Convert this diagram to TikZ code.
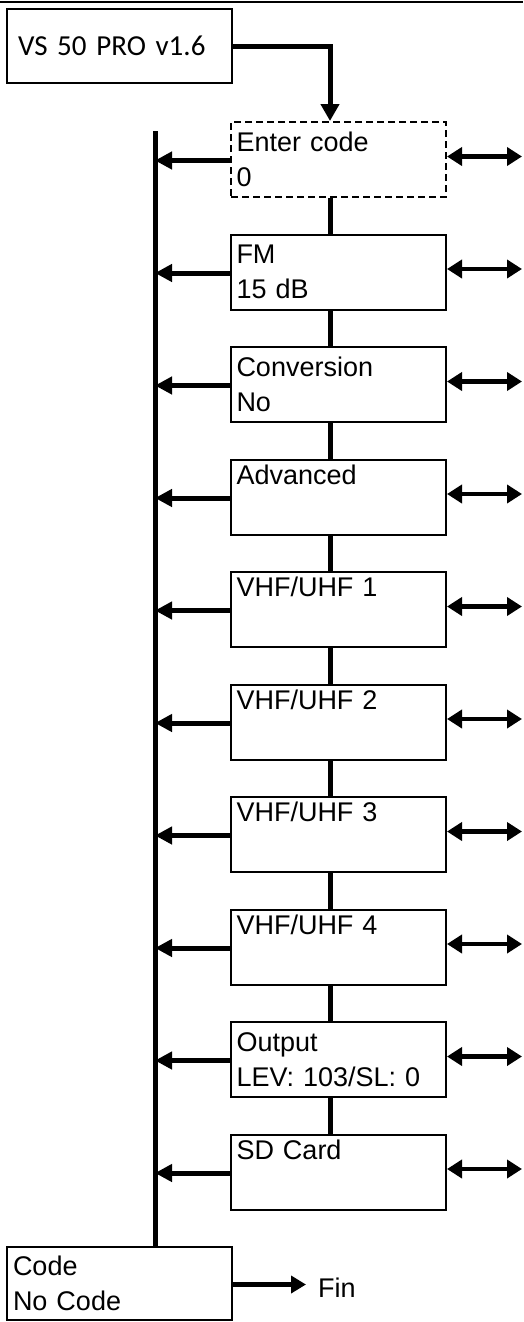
\documentclass[tikz,border=0pt]{standalone}
\usepackage{fontspec}
\setmainfont{Liberation Sans}
\newfontfamily\calfont{Carlito}
\usetikzlibrary{arrows.meta}
\begin{document}
\begin{tikzpicture}[x=1pt,y=-1pt,
  box/.style={draw, line width=2pt, minimum width=215pt, minimum height=75pt,
    text width=204pt, inner xsep=5.5pt, inner ysep=0pt, align=left,
    font=\fontsize{27}{34.5}\selectfont},
  dbox/.style={box, dashed, dash pattern=on 7pt off 4pt},
  link/.style={line width=5pt},
  larrow/.style={line width=5pt, -{Triangle[length=17pt,width=17pt]}},
  darrow/.style={line width=4.5pt, {Triangle[length=15pt,width=18pt]}-{Triangle[length=15pt,width=18pt]}},
  txt/.style={inner sep=0pt, anchor=base west, font=\fontsize{27}{34.5}\selectfont}
]
\useasboundingbox (0,0) rectangle (523,1322);
\draw[line width=2pt] (0,2) -- (523,2);

\node[box, font=\calfont\fontsize{29}{34}\selectfont, inner xsep=11pt, text width=203pt, minimum height=74pt] (vs) at (119.5,46) {VS 50 PRO v1.6};

\node[dbox] (b0) at (338.5,159.5) {Enter code\\0};
\node[box] (b1) at (338.5,272) {FM\\15 dB};
\node[box] (b2) at (338.5,384.5) {Conversion\\No};
\node[box] (b3) at (338.5,497) {Advanced\\\strut};
\node[box] (b4) at (338.5,609.5) {VHF/UHF 1\\\strut};
\node[box] (b5) at (338.5,722) {VHF/UHF 2\\\strut};
\node[box] (b6) at (338.5,834.5) {VHF/UHF 3\\\strut};
\node[box] (b7) at (338.5,947) {VHF/UHF 4\\\strut};
\node[box] (b8) at (338.5,1059.5) {Output\\LEV: 103/SL: 0};
\node[box] (b9) at (338.5,1172) {SD Card\\\strut};

\node[box, minimum width=225pt, text width=213pt, inner xsep=6pt, minimum height=73pt] (code) at (119.5,1283.5) {Code\\No Code};
\node[txt] (fin) at (318,1297) {Fin};

\coordinate (bustop) at (155,131);
\coordinate (vx) at (330,0);

% top entry arrow
\draw[line width=5pt, -{Triangle[length=17pt,width=18pt]}] (vs.east |- 0,47) -- (vx |- 0,47) -- (vx |- b0.north);

% bus
\draw[link] (bustop) -- (bustop |- code.north);

% vertical chain
\foreach \a/\b in {b0/b1,b1/b2,b2/b3,b3/b4,b4/b5,b5/b6,b6/b7,b7/b8,b8/b9}{
  \draw[link] (vx |- \a.south) -- (vx |- \b.north);
}

% left arrows and right double arrows
\foreach \n in {b0,b1,b2,b3,b4,b5,b6,b7,b8,b9}{
  \draw[larrow] ([yshift=-1pt]\n.west) -- ([yshift=-1pt]\n.west -| bustop);
  \draw[darrow] ([yshift=3pt]\n.east) -- ++(75,0);
}

% Fin arrow
\draw[line width=5pt, -{Triangle[length=15pt,width=17pt]}] ([yshift=-1pt]code.east) -- ([yshift=-1pt]code.east -| 306,0);
\end{tikzpicture}
\end{document}
